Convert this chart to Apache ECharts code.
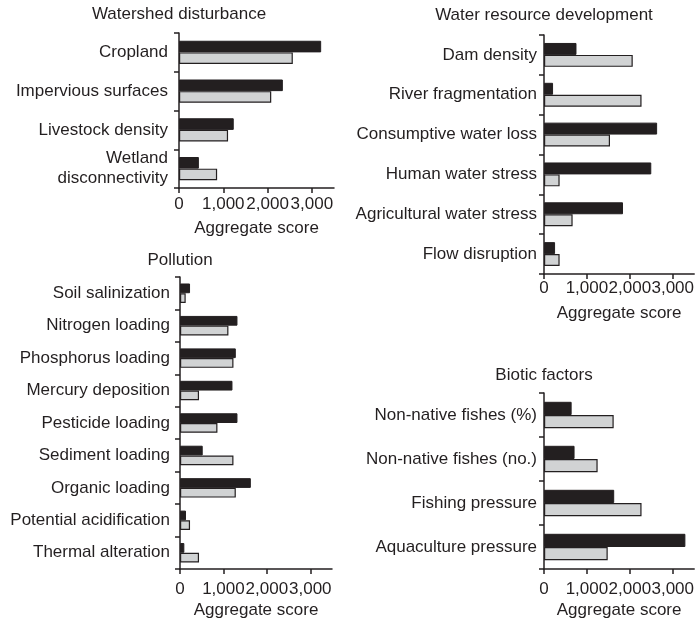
<!DOCTYPE html>
<html><head><meta charset="utf-8">
<script src="https://cdn.jsdelivr.net/npm/echarts@6/dist/echarts.min.js"></script>
<style>html,body{margin:0;padding:0;background:#fff}#c{width:697px;height:620px}</style>
</head><body><div id="c"></div>
<script>
// ---- Data ----
const xTickValues = [0, 1000, 2000, 3000];

const wsTitle = 'Watershed disturbance';
const wsCategories = ['Cropland', 'Impervious surfaces', 'Livestock density', 'Wetland\ndisconnectivity'];
const wsBlack = [3210, 2345, 1236, 449];
const wsGray = [2570, 2083, 1108, 861];

const wrTitle = 'Water resource development';
const wrCategories = ['Dam density', 'River fragmentation', 'Consumptive water loss', 'Human water stress', 'Agricultural water stress', 'Flow disruption'];
const wrBlack = [757, 211, 2636, 2500, 1841, 258];
const wrGray = [2068, 2273, 1538, 364, 667, 364];

const poTitle = 'Pollution';
const poCategories = ['Soil salinization', 'Nitrogen loading', 'Phosphorus loading', 'Mercury deposition', 'Pesticide loading', 'Sediment loading', 'Organic loading', 'Potential acidification', 'Thermal alteration'];
const poBlack = [231, 1323, 1285, 1208, 1323, 523, 1631, 138, 100];
const poGray = [131, 1115, 1231, 438, 862, 1231, 1285, 231, 438];

const biTitle = 'Biotic factors';
const biCategories = ['Non-native fishes (%)', 'Non-native fishes (no.)', 'Fishing pressure', 'Aquaculture pressure'];
const biBlack = [644, 712, 1636, 3295];
const biGray = [1624, 1250, 2273, 1485];

const axisName = 'Aggregate score';

// ---- Layout ----
const INK = '#231f20';
const FONT = '"Liberation Sans", Arial, Helvetica, sans-serif';
const FS = 17;

const panels = [
  { title: wsTitle, cats: wsCategories, black: wsBlack, gray: wsGray,
    grid: { left: 179, top: 33, width: 155, height: 155 }, titleY: 14, labelMargin: 8, nameGap: 32, yMargin: 11 },
  { title: wrTitle, cats: wrCategories, black: wrBlack, gray: wrGray,
    grid: { left: 544, top: 35, width: 154, height: 239 }, titleY: 15, labelMargin: 6, nameGap: 31, yMargin: 7 },
  { title: poTitle, cats: poCategories, black: poBlack, gray: poGray,
    grid: { left: 180, top: 277, width: 152, height: 293 }, titleY: 260, labelMargin: 12, nameGap: 33, yMargin: 10 },
  { title: biTitle, cats: biCategories, black: biBlack, gray: biGray,
    grid: { left: 544, top: 393, width: 154, height: 177 }, titleY: 375, labelMargin: 12, nameGap: 33, yMargin: 7 }
];

const option = {
  animation: false,
  backgroundColor: '#ffffff',
  textStyle: { fontFamily: FONT, color: INK },
  title: [], grid: [], xAxis: [], yAxis: [], series: []
};

panels.forEach((p, i) => {
  option.title.push({
    text: p.title, left: p.grid.left, top: p.titleY, padding: 0,
    textAlign: 'center', textVerticalAlign: 'middle',
    textStyle: { fontFamily: FONT, fontSize: FS, fontWeight: 'normal', color: INK }
  });
  option.grid.push(Object.assign({ containLabel: false }, p.grid));
  option.xAxis.push({
    type: 'value', gridIndex: i, min: 0, max: 3500, interval: 1000,
    axisLine: { show: true, lineStyle: { color: INK, width: 1.5 } },
    axisTick: { show: true, length: 5, customValues: xTickValues, lineStyle: { color: INK, width: 1.5 } },
    axisLabel: { customValues: xTickValues, margin: p.labelMargin, fontSize: FS, color: INK, fontFamily: FONT,
      formatter: v => v.toLocaleString('en-US') },
    splitLine: { show: false },
    name: axisName, nameLocation: 'middle', nameGap: p.nameGap,
    nameTextStyle: { fontSize: FS, color: INK, fontFamily: FONT }
  });
  option.yAxis.push({
    type: 'category', gridIndex: i, inverse: true, data: p.cats,
    axisLine: { show: true, lineStyle: { color: INK, width: 1.5 } },
    axisTick: { show: true, length: 5, alignWithLabel: false, lineStyle: { color: INK, width: 1.5 } },
    axisLabel: { margin: p.yMargin, fontSize: FS, color: INK, fontFamily: FONT, lineHeight: 20, interval: 0 },
    splitLine: { show: false }
  });
  option.series.push({
    type: 'bar', name: 'Black', xAxisIndex: i, yAxisIndex: i, data: p.black,
    barWidth: '30%', barGap: '0%', silent: true,
    itemStyle: { color: INK, borderColor: INK, borderWidth: 1 }
  });
  option.series.push({
    type: 'bar', name: 'Gray', xAxisIndex: i, yAxisIndex: i, data: p.gray,
    barWidth: '30%', barGap: '0%', silent: true,
    itemStyle: { color: '#d1d3d4', borderColor: INK, borderWidth: 1.2 }
  });
});

const chart = echarts.init(document.getElementById('c'), null, { renderer: 'canvas' });
chart.setOption(option);
</script>
</body></html>
